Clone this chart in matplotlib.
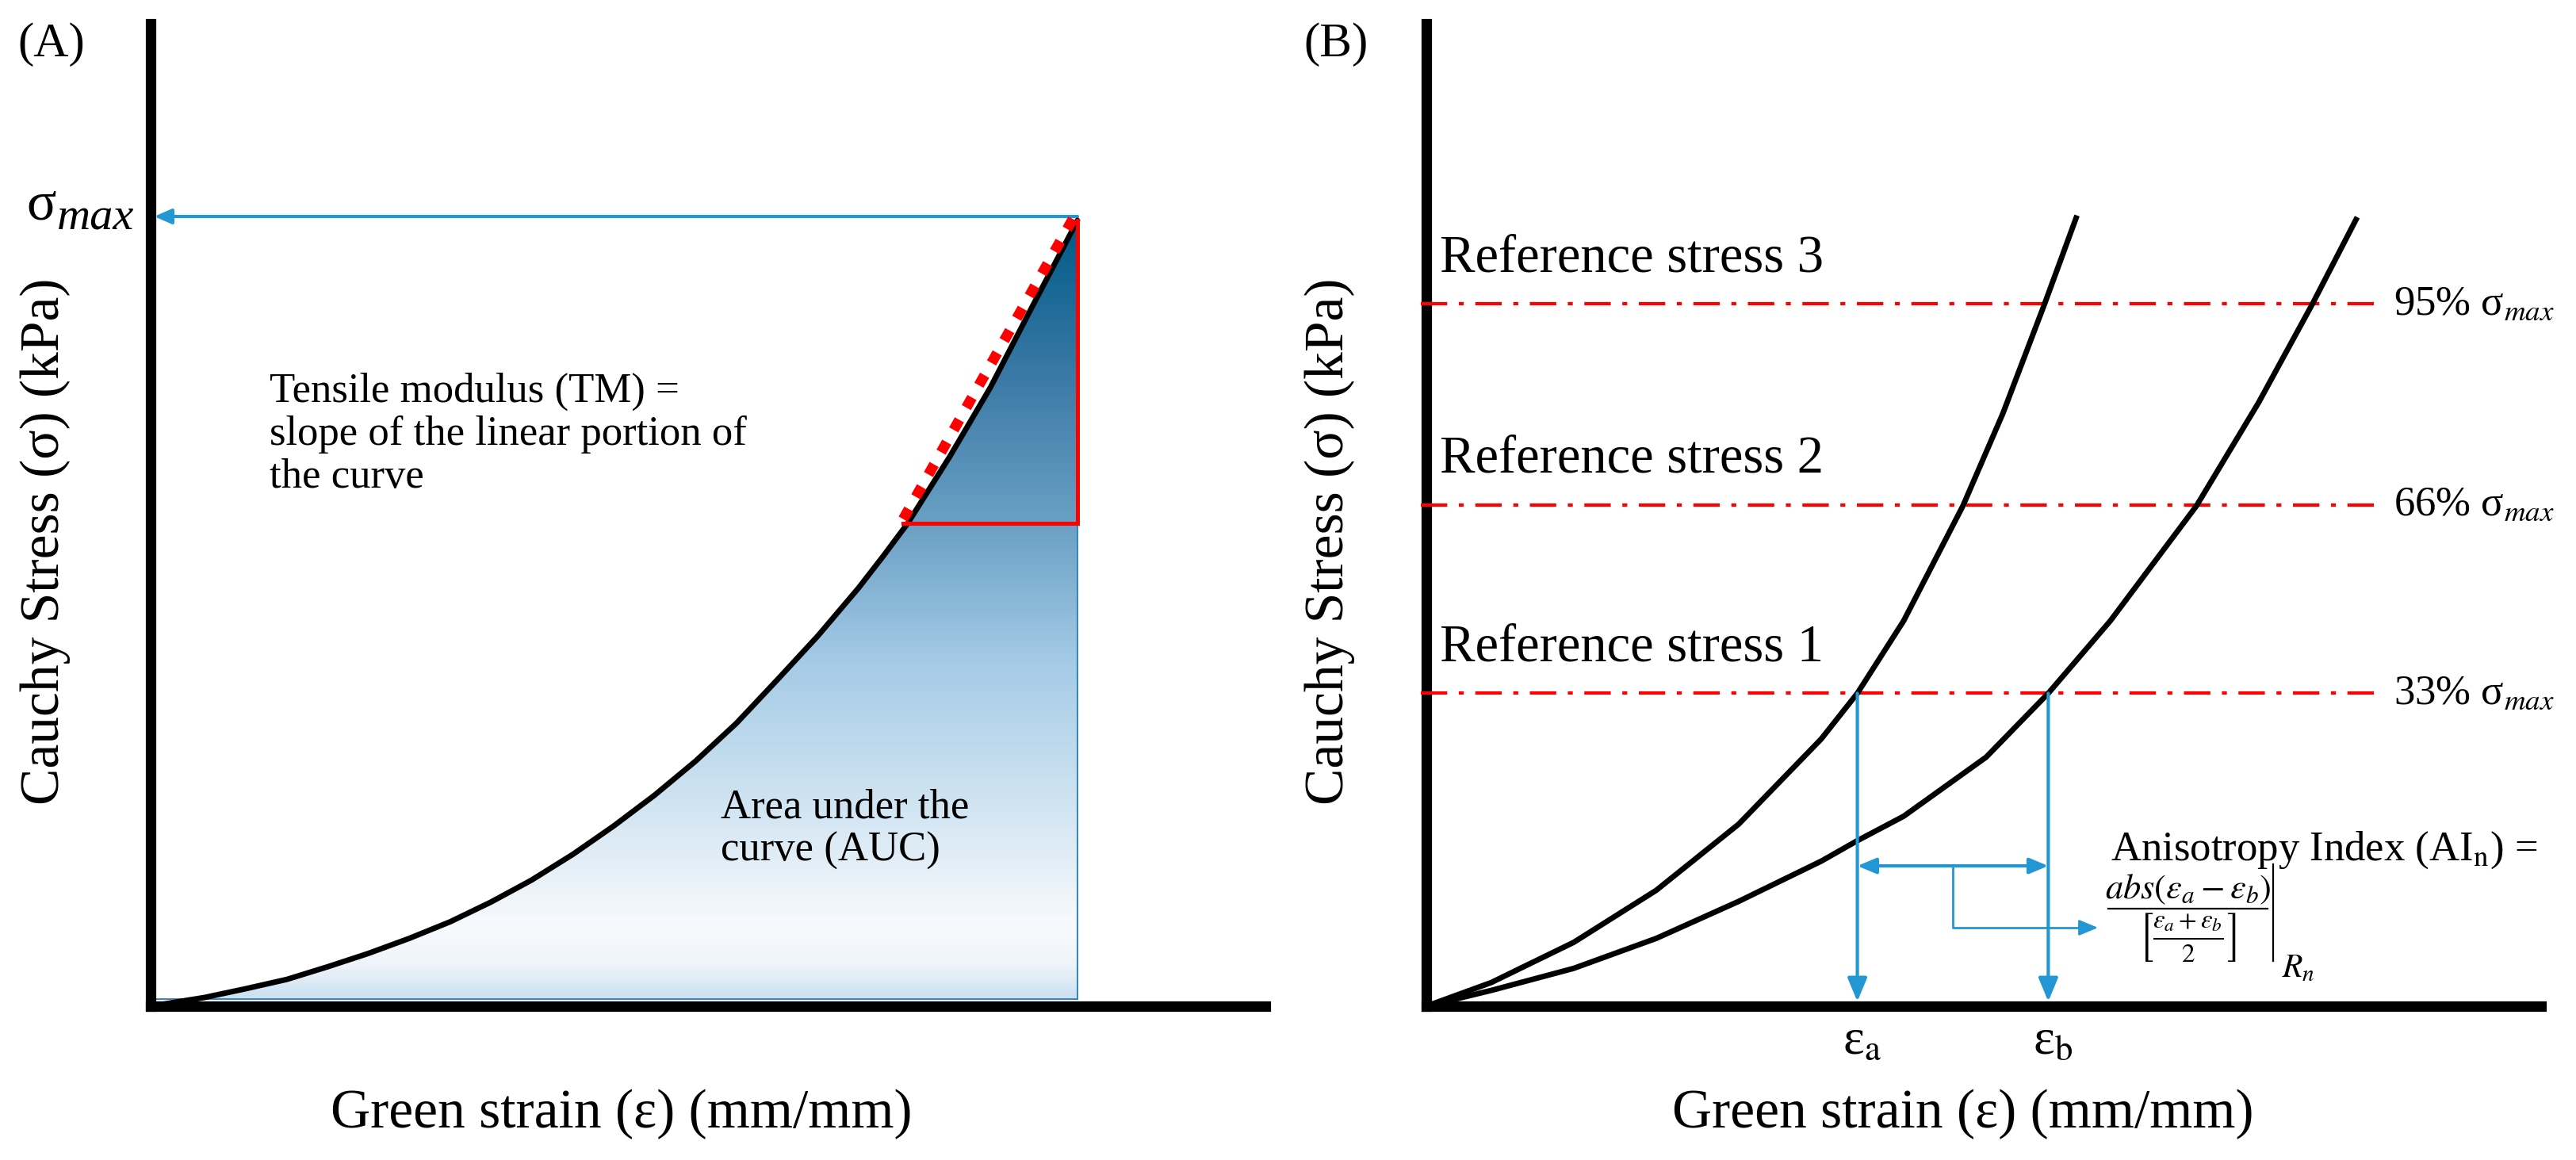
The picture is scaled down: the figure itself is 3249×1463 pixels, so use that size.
import numpy as np
import matplotlib
matplotlib.use('Agg')
import matplotlib.pyplot as plt
from matplotlib.colors import LinearSegmentedColormap
from matplotlib.patches import Polygon, ArrowStyle

plt.rcParams['font.family'] = 'serif'
plt.rcParams['font.serif'] = ['Liberation Serif', 'DejaVu Serif']
plt.rcParams['mathtext.fontset'] = 'stix'

W, H = 3249, 1463

# --- DATA (strain, stress normalised so that sigma_max = 1) ---
strain_a = [0.0, 0.058, 0.102, 0.147, 0.191, 0.235, 0.279, 0.323, 0.367, 0.411, 0.456,
            0.500, 0.544, 0.588, 0.632, 0.676, 0.720, 0.764, 0.791, 0.817, 0.862, 0.906,
            0.950, 1.0]
stress_a = [0.0, 0.011, 0.022, 0.034, 0.050, 0.067, 0.086, 0.107, 0.132, 0.160, 0.193,
            0.229, 0.268, 0.311, 0.359, 0.414, 0.470, 0.531, 0.572, 0.613, 0.697, 0.785,
            0.885, 0.997]
tm_strain = [0.812, 0.998]
tm_stress = [0.618, 1.005]

strain_b1 = [0.0, 0.070, 0.159, 0.248, 0.337, 0.426, 0.465, 0.515, 0.579, 0.622, 0.667, 0.701]
stress_b1 = [0.0, 0.030, 0.081, 0.147, 0.231, 0.339, 0.397, 0.489, 0.635, 0.752, 0.891, 1.0]
strain_b2 = [0.0, 0.070, 0.159, 0.248, 0.337, 0.426, 0.465, 0.515, 0.604, 0.671, 0.738,
             0.831, 0.898, 0.956, 1.003]
stress_b2 = [0.0, 0.020, 0.048, 0.086, 0.133, 0.184, 0.210, 0.241, 0.316, 0.397, 0.489,
             0.635, 0.766, 0.891, 0.998]

ref_levels = [0.397, 0.636, 0.891]
ref_pct = ['33%', '66%', '95%']
ref_names = ['Reference stress 1', 'Reference stress 2', 'Reference stress 3']

BLUE = '#2397d4'
RED = '#ff0000'
AX_LW = 9.5

fig = plt.figure(figsize=(W / 100, H / 100), dpi=100)
fig.patch.set_facecolor('white')


def make_axes(left_px, right_px, top_px, bottom_px):
    ax = fig.add_axes([left_px / W, 1 - bottom_px / H,
                       (right_px - left_px) / W, (bottom_px - top_px) / H])
    ax.set_xlim(0, (right_px - left_px) / 1169)
    ax.set_ylim(0, (bottom_px - top_px) / 994)
    for s in ['top', 'right']:
        ax.spines[s].set_visible(False)
    for s in ['left', 'bottom']:
        ax.spines[s].set_linewidth(AX_LW)
        ax.spines[s].set_capstyle('projecting')
    ax.set_xticks([])
    ax.set_yticks([])
    ax.patch.set_alpha(0)
    return ax


def ftext(px, py, s, **kw):
    fig.text(px / W, 1 - py / H, s, **kw)


# ================= PANEL A =================
axA = make_axes(190, 1596, 30, 1269)

# gradient fill under the curve
cmap = LinearSegmentedColormap.from_list('auc', [
    (0.0, '#cde1f1'), (0.04, '#eef4fa'), (0.09, '#f8fafd'), (0.25, '#d0e4f2'),
    (0.43, '#a5cbe6'), (0.61, '#6aa0c5'), (0.8, '#3b7aa6'), (1.0, '#005a88')])
grad = np.linspace(0, 1, 400).reshape(-1, 1)
img = axA.imshow(grad, extent=[0, strain_a[-1], 0.009, stress_a[-1]], origin='lower',
                 aspect='auto', cmap=cmap, zorder=1)
verts = list(zip(strain_a, stress_a)) + [(strain_a[-1], 0.009), (0, 0.009)]
poly = Polygon(verts, closed=True, facecolor='none', edgecolor='#3d87b8', lw=1.5, zorder=2)
axA.add_patch(poly)
img.set_clip_path(poly)

axA.plot(strain_a, stress_a, color='black', lw=5, zorder=4, clip_on=False,
         solid_capstyle='round', solid_joinstyle='round')

# red triangle (linear portion)
axA.plot([tm_strain[0], strain_a[-1], strain_a[-1]], [0.613, 0.613, stress_a[-1]],
         color=RED, lw=3.6, zorder=5, solid_joinstyle='miter')
axA.plot(tm_strain, tm_stress, color=RED, lw=9.5, zorder=6, dashes=(1.1, 1.35),
         dash_capstyle='butt')

# sigma max arrow
axA.annotate('', xy=(0.004, stress_a[-1] + 0.005), xytext=(strain_a[-1], stress_a[-1] + 0.005),
             arrowprops=dict(arrowstyle=ArrowStyle('-|>', head_length=0.5, head_width=0.22),
                             mutation_scale=26, color=BLUE, lw=3, shrinkA=0, shrinkB=0),
             zorder=3, annotation_clip=False)

ftext(65, 56, '(A)', fontsize=44, ha='center', va='center')
ftext(33, 260, 'σ', fontsize=50, ha='left', va='center')
ftext(72, 289, 'max', fontsize=42, ha='left', va='baseline', style='italic')
ftext(340, 548, 'Tensile modulus (TM) =\nslope of the linear portion of\nthe curve',
      fontsize=38, ha='left', va='center', linespacing=1.17)
ftext(909, 1046, 'Area under the\ncurve (AUC)', fontsize=38, ha='left', va='center',
      linespacing=1.17)
ftext(784, 1405, 'Green strain (ε) (mm/mm)', fontsize=50, ha='center', va='center')
ftext(57, 683, 'Cauchy Stress (σ) (kPa)', fontsize=50, ha='center', va='center', rotation=90)

# ================= PANEL B =================
axB = make_axes(1799, 3205, 30, 1269)

axB.plot(strain_b1, stress_b1, color='black', lw=5, zorder=4, clip_on=False,
         solid_joinstyle='round')
axB.plot(strain_b2, stress_b2, color='black', lw=5, zorder=4, clip_on=False,
         solid_joinstyle='round')

for lev, pct, name in zip(ref_levels, ref_pct, ref_names):
    axB.plot([-0.006, 1.027], [lev, lev], color=RED, lw=3, dashes=(8, 3.5, 1.5, 3.5),
             zorder=3, clip_on=False)
    axB.text(0.0145, lev + 0.058, name, fontsize=48, ha='left', va='center')
    axB.text(1.044, lev, pct + ' σ$_{max}$', fontsize=38, ha='left', va='center',
             clip_on=False)

eps_a = float(np.interp(ref_levels[0], stress_b1, strain_b1))
eps_b = float(np.interp(ref_levels[0], stress_b2, strain_b2))

down = ArrowStyle('-|>', head_length=0.6, head_width=0.25)
for e, lab in [(eps_a, 'ε$_\\mathrm{a}$'), (eps_b, 'ε$_\\mathrm{b}$')]:
    axB.annotate('', xy=(e, 0.006), xytext=(e, ref_levels[0]),
                 arrowprops=dict(arrowstyle=down, mutation_scale=30, color=BLUE, lw=3,
                                 shrinkA=0, shrinkB=0), zorder=5, annotation_clip=False)
    axB.text(e + 0.005, -0.045, lab, fontsize=46, ha='center', va='center', clip_on=False)

y_dbl = 0.178
y_brk = 0.0996
x_mid = (eps_a + eps_b) / 2
x_end = 0.7246
axB.annotate('', xy=(eps_a, y_dbl), xytext=(eps_b, y_dbl),
             arrowprops=dict(arrowstyle=ArrowStyle('<|-|>', head_length=0.6, head_width=0.25),
                             mutation_scale=24, color=BLUE, lw=3, shrinkA=0, shrinkB=0),
             zorder=5)
axB.plot([x_mid, x_mid, x_end - 0.01], [y_dbl, y_brk, y_brk], color=BLUE, lw=2, zorder=5)
axB.annotate('', xy=(x_end, y_brk), xytext=(x_end - 0.02, y_brk),
             arrowprops=dict(arrowstyle=ArrowStyle('-|>', head_length=0.6, head_width=0.25),
                             mutation_scale=24, color=BLUE, lw=2, shrinkA=0, shrinkB=0),
             zorder=5)

axB.text(0.738, 0.198, 'Anisotropy Index (AI$_\\mathrm{n}$) =', fontsize=38,
         ha='left', va='center', clip_on=False)


def pxB(px, py):
    return (px - 1799) / 1169, (1269 - py) / 994


# anisotropy formula, built from pieces
ftext(2760, 1122, r'$abs(\varepsilon_a-\varepsilon_b)$', fontsize=32, ha='center', va='center')
x0, y0 = pxB(2659, 1146)
x1, _ = pxB(2860, 1146)
axB.plot([x0, x1], [y0, y0], color='black', lw=1.6, clip_on=False, zorder=5)
ftext(2759, 1182, r'$\left[\frac{\varepsilon_a+\varepsilon_b}{2}\right]$', fontsize=34,
      ha='center', va='center')
xv, yv0 = pxB(2867, 1090)
_, yv1 = pxB(2867, 1212)
axB.plot([xv, xv], [yv0, yv1], color='black', lw=1.6, clip_on=False, zorder=5)
ftext(2878, 1222, r'$R_n$', fontsize=30, ha='left', va='center')

ftext(1685, 56, '(B)', fontsize=44, ha='center', va='center')
ftext(2476, 1405, 'Green strain (ε) (mm/mm)', fontsize=50, ha='center', va='center')
ftext(1677, 683, 'Cauchy Stress (σ) (kPa)', fontsize=50, ha='center', va='center', rotation=90)

fig.savefig('out.png', dpi=100, facecolor='white')
